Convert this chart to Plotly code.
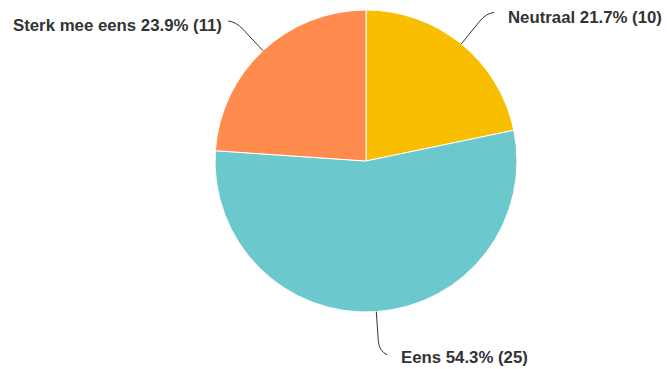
import math
import plotly.graph_objects as go

# Survey answers
labels = ["Neutraal", "Eens", "Sterk mee eens"]
counts = [10, 25, 11]
colors = ["#F9BE00", "#6BC8CD", "#FF8B4F"]

W, H = 667, 369
CX, CY, R = 366, 161, 151  # pie centre / radius in pixels

total = sum(counts)
pcts = [c / total * 100 for c in counts]

fig = go.Figure(go.Pie(
    labels=labels,
    values=counts,
    marker=dict(colors=colors, line=dict(color="white", width=1)),
    sort=False,
    direction="clockwise",
    rotation=0,
    textinfo="none",
    hoverinfo="label+percent+value",
    domain=dict(x=[(CX - R) / W, (CX + R) / W],
                y=[(H - CY - R) / H, (H - CY + R) / H]),
    showlegend=False,
))


def px(x, y):
    return x / W, 1 - y / H


shapes, annotations = [], []
cum = 0
for lab, c, p in zip(labels, counts, pcts):
    mid = (cum + c / 2) / total * 2 * math.pi
    cum += c
    sx, sy = math.sin(mid), -math.cos(mid)
    x0, y0 = CX + R * sx, CY + R * sy
    # knee of the leader line, a bit outside the rim
    rk = R * 1.26
    xk, yk = CX + rk * sx, CY + rk * sy
    side = 1 if sx >= 0 else -1
    # straight part stops short of the knee, then curls horizontally
    xa, ya = CX + (rk - 10) * sx, CY + (rk - 10) * sy
    xe, ye = xk + side * 8, yk + (4 if sy > 0 else -1)
    pts = [px(x0, y0), px(xa, ya), px(xk, yk), px(xe, ye)]
    path = "M {} {} L {} {} Q {} {} {} {}".format(
        *[f"{v:.5f}" for pt in pts for v in pt])
    shapes.append(dict(type="path", xref="paper", yref="paper", path=path,
                       line=dict(color="#333333", width=1)))
    gap = 12 if side > 0 else 4
    tx, ty = px(xe + side * gap, ye + (3 if sy > 0 else 5))
    annotations.append(dict(
        x=tx, y=ty, xref="paper", yref="paper",
        text=f"{lab} {p:.1f}% ({c})",
        showarrow=False,
        xanchor="left" if side > 0 else "right",
        yanchor="middle",
        font=dict(family="Liberation Sans", size=16.8, color="#333333",
                  weight="bold"),
    ))

fig.update_layout(
    width=W, height=H,
    margin=dict(l=0, r=0, t=0, b=0),
    paper_bgcolor="white",
    plot_bgcolor="white",
    shapes=shapes,
    annotations=annotations,
)

fig.write_html("out.html")
